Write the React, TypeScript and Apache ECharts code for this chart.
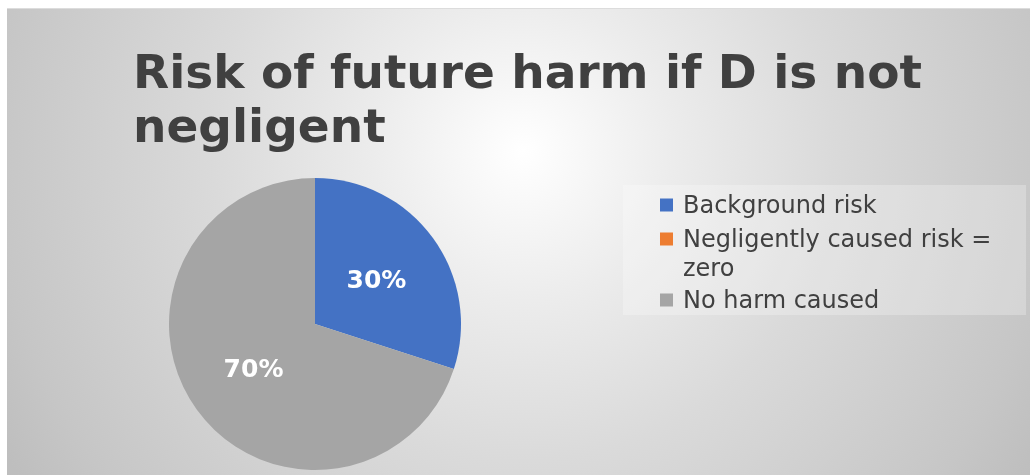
import React, { useEffect, useRef } from "react";
import * as echarts from "echarts";

const titleText = "Risk of future harm if D is not\nnegligent";
const categories = ["Background risk", "Negligently caused risk =", "No harm caused"];
const categoryExtra = ["", "zero", ""];
const values = [30, 0, 70];
const colors = ["#4472C4", "#ED7D31", "#A5A5A5"];

export default function App() {
  const ref = useRef<HTMLDivElement>(null);

  useEffect(() => {
    if (!ref.current) return;
    const chart = echarts.init(ref.current, undefined, { renderer: "svg" });
    const font = "DejaVu Sans";
    chart.setOption({
      animation: false,
      title: {
        text: titleText,
        left: 126,
        top: 35,
        padding: 0,
        textStyle: {
          fontFamily: font,
          fontSize: 47,
          fontWeight: "bold",
          color: "#404040",
          lineHeight: 54,
        },
      },
      graphic: [
        {
          type: "rect",
          shape: { x: 616, y: 176, width: 403, height: 130 },
          style: { fill: "rgba(255,255,255,0.25)" },
          z: 0,
          silent: true,
        },
        {
          type: "text",
          x: 676,
          y: 259,
          z: 5,
          style: {
            text: categoryExtra[1],
            font: `24px "${font}"`,
            fill: "#404040",
            verticalAlign: "middle",
          },
          silent: true,
        },
      ],
      legend: [
        {
          orient: "vertical",
          left: 653,
          top: 182,
          padding: 0,
          itemGap: 6,
          itemWidth: 13,
          itemHeight: 13,
          icon: "rect",
          selectedMode: false,
          data: [categories[0], categories[1]],
          textStyle: {
            fontFamily: font,
            fontSize: 24,
            color: "#404040",
            lineHeight: 28,
            padding: [0, 0, 0, 5],
          },
        },
        {
          orient: "vertical",
          left: 653,
          top: 277,
          padding: 0,
          itemWidth: 13,
          itemHeight: 13,
          icon: "rect",
          selectedMode: false,
          data: [categories[2]],
          textStyle: {
            fontFamily: font,
            fontSize: 24,
            color: "#404040",
            lineHeight: 28,
            padding: [0, 0, 0, 5],
          },
        },
      ],
      series: [
        {
          type: "pie",
          center: [308, 315],
          radius: 146,
          startAngle: 90,
          clockwise: true,
          avoidLabelOverlap: false,
          emphasis: { disabled: true },
          label: {
            show: true,
            position: "inside",
            formatter: (p: any) => Math.round(p.percent) + "%",
            color: "#ffffff",
            fontFamily: font,
            fontSize: 25,
            fontWeight: "bold",
          },
          labelLine: { show: false },
          data: categories.map((name, i) => ({
            name,
            value: values[i],
            itemStyle: { color: colors[i] },
            label: values[i] === 0 ? { show: false } : undefined,
          })),
        },
      ],
    });
    return () => chart.dispose();
  }, []);

  return (
    <div
      style={{
        position: "fixed",
        left: 7,
        top: 8,
        width: 1023,
        height: 467,
        boxSizing: "border-box",
        borderTop: "1px solid #dcdcdc",
        background:
          "radial-gradient(circle at 516px 142px, #ffffff 0px, #ececec 150px, #dadada 310px, #c6c6c6 530px, #bebebe 600px)",
      }}
    >
      <div ref={ref} style={{ width: "100%", height: "100%" }} />
    </div>
  );
}
